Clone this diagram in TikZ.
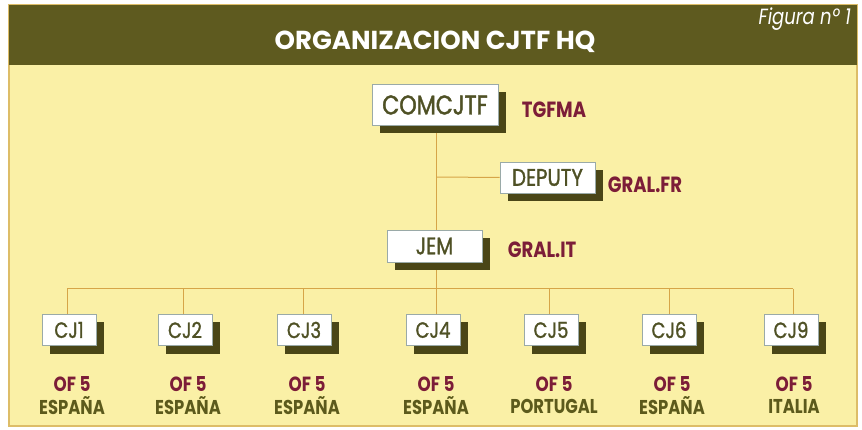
\documentclass[tikz,border=0pt]{standalone}
\usepackage{fontspec}
\setmainfont{Poppins}
\newfontfamily\condfont[FakeStretch=0.82]{Poppins}
\newfontfamily\boxfont[FakeStretch=0.82,FakeBold=1.3]{Poppins}
\usetikzlibrary{shadows}
\pgfdeclarelayer{back}
\pgfdeclarelayer{bg}
\pgfsetlayers{back,bg,main}
\definecolor{hdr}{HTML}{5E5A1F}
\definecolor{panel}{HTML}{FAF0A6}
\definecolor{pborder}{HTML}{DDBD68}
\definecolor{linec}{HTML}{D6A548}
\definecolor{shadowc}{HTML}{4A4617}
\definecolor{boxtext}{HTML}{4F5125}
\definecolor{boxborder}{HTML}{9AAAA8}
\definecolor{maroon}{HTML}{7C1D38}
\definecolor{olivetext}{HTML}{5C5A1C}
\tikzset{
  orgbox/.style={draw=boxborder, line width=0.8pt, fill=white, inner sep=0pt,
    font=\boxfont\fontsize{24}{24}\selectfont, text=boxtext,
    drop shadow={shadow xshift=7.5pt, shadow yshift=-8pt, fill=shadowc, opacity=1}},
  cjbox/.style={orgbox, minimum width=54pt, minimum height=31pt,
    font=\boxfont\fontsize{22}{22}\selectfont},
  rolelbl/.style={font=\condfont\bfseries\fontsize{22}{22}\selectfont, text=maroon, inner sep=0pt},
  oflbl/.style={font=\condfont\bfseries\fontsize{20.5}{20.5}\selectfont, text=maroon, inner sep=0pt},
  ctrylbl/.style={font=\condfont\bfseries\fontsize{20}{20}\selectfont, text=olivetext, inner sep=0pt},
  conn/.style={draw=linec, line width=1pt}
}
\begin{document}
\begin{tikzpicture}[x=1pt,y=-1pt]
\useasboundingbox (0,0) rectangle (862,430);
\begin{pgfonlayer}{back}
\fill[white] (0,0) rectangle (862,430);
\fill[panel, draw=pborder, line width=1.2pt] (9,5) rectangle (857,426);
\fill[hdr] (9,5) rectangle (857,65);
\end{pgfonlayer}
\node[font=\bfseries\fontsize{26}{26}\selectfont, text=white, inner sep=0pt] (title) at (435,42) {ORGANIZACION CJTF HQ};
\node[font=\condfont\itshape\fontsize{22}{22}\selectfont, text=white, inner sep=0pt, anchor=east] (fig) at (851,19) {Figura nº 1};
% coordinates for connectors
\coordinate (dj) at (436,177);
\foreach \n/\x in {1/67,2/183,3/303,4/436,5/549,6/669,9/793}{
  \coordinate (b\n) at (\x,289);
}
% boxes
\node[orgbox, minimum width=126pt, minimum height=41pt, font=\boxfont\fontsize{27}{27}\selectfont] (com) at (435,105) {COMCJTF};
\node[orgbox, minimum width=95pt, minimum height=31pt] (dep) at (547.5,177.5) {DEPUTY};
\node[orgbox, minimum width=95pt, minimum height=32pt] (jem) at (434.5,246) {JEM};
\foreach \n/\x/\c in {1/69/ESPAÑA,2/185/ESPAÑA,3/304/ESPAÑA,4/433/ESPAÑA,5/551/PORTUGAL,6/669/ESPAÑA,9/791/ITALIA}{
  \node[cjbox] (cj\n) at (\x,330) {CJ\n};
  \node[oflbl] (of\n) at (\x+3,384) {OF 5};
  \node[ctrylbl] (ct\n) at (\x+3,406) {\c};
}
% connectors (behind boxes)
\begin{pgfonlayer}{bg}
\path[conn] (b1) -- (b9);
\foreach \n in {1,2,3,4,5,6,9}{
  \path[conn] (b\n) -- (b\n |- cj\n.north);
}
\path[conn] (com.south -| dj) -- (b4);
\path[conn] (dj) -- (dep.west);
\end{pgfonlayer}
% role labels
\node[rolelbl] (tg) at (554,110) {TGFMA};
\node[rolelbl] (gfr) at (645,185) {GRAL.FR};
\node[rolelbl] (git) at (542,250) {GRAL.IT};
\end{tikzpicture}
\end{document}
